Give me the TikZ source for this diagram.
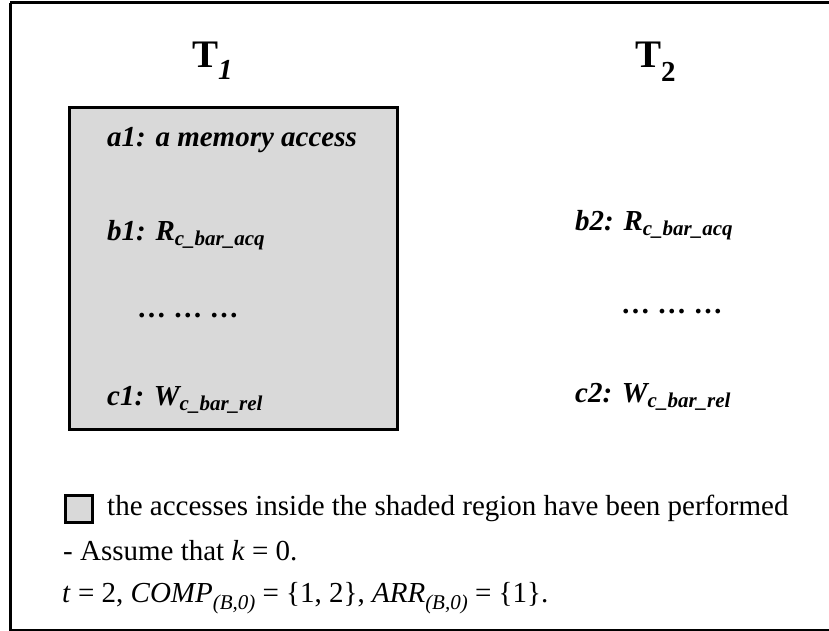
\documentclass[tikz,border=0pt]{standalone}
\usepackage{fontspec}
\setmainfont{Liberation Serif}
\tikzset{
  lbl/.style={anchor=base west, inner sep=0pt, font=\fontsize{29}{31}\selectfont\bfseries\itshape},
  head/.style={anchor=base west, inner sep=0pt, font=\fontsize{39}{42}\selectfont\bfseries},
  note/.style={anchor=base west, inner sep=0pt, font=\fontsize{29}{31}\selectfont},
  shaded/.style={draw=black, line width=3pt, fill=black!15}
}
% lowered, smaller text for subscripts
\newcommand{\lowsub}[2][0.2em]{\raisebox{-#1}{\fontsize{21}{22}\selectfont #2}}
\begin{document}
\begin{tikzpicture}[x=1pt, y=-1pt]
  \useasboundingbox (0,0) rectangle (829,631);
  % outer frame (runs past the right and bottom edges)
  \draw[line width=3pt] (10,3) -- (840,3) (10,3) -- (10,640) (10,630) -- (840,630);
  % shaded region for thread T1
  \node[shaded, minimum width=328pt, minimum height=322pt, anchor=north west, inner sep=0pt] (box) at (68,106) {};
  % thread headings
  \node[head] (t1) at (192,68) {T\raisebox{-0.3em}{\fontsize{29}{30}\selectfont\itshape 1}};
  \node[head] (t2) at (635,68) {T\raisebox{-0.35em}{\fontsize{29}{30}\selectfont 2}};
  % accesses of T1
  \node[lbl] (a1) at (107,147) {a1: a memory access};
  \node[lbl] (b1) at (107,240) {b1: R\lowsub{c\_bar\_acq}};
  \node[lbl] (d1) at (138,317) {… … …};
  \node[lbl] (c1) at (107,405) {c1: W\lowsub{c\_bar\_rel}};
  % accesses of T2
  \node[lbl] (b2) at (575,230) {b2: R\lowsub{c\_bar\_acq}};
  \node[lbl] (d2) at (622,313) {… … …};
  \node[lbl] (c2) at (575,402) {c2: W\lowsub{c\_bar\_rel}};
  % legend and notes
  \node[draw=black, line width=2.5pt, fill=black!15, minimum size=27pt, inner sep=0pt, anchor=north west] (key) at (64,494) {};
  \node[note] (keytext) at (107,515) {the accesses inside the shaded region have been performed};
  \node[note] (n1) at (63,560) {- Assume that \textit{k} = 0.};
  \node[note] (n2) at (62,602) {\textit{t} = 2, \textit{COMP}\lowsub[0.25em]{\itshape (B,0)} = \{1, 2\}, \textit{ARR}\lowsub[0.25em]{\itshape (B,0)} = \{1\}.};
\end{tikzpicture}
\end{document}
